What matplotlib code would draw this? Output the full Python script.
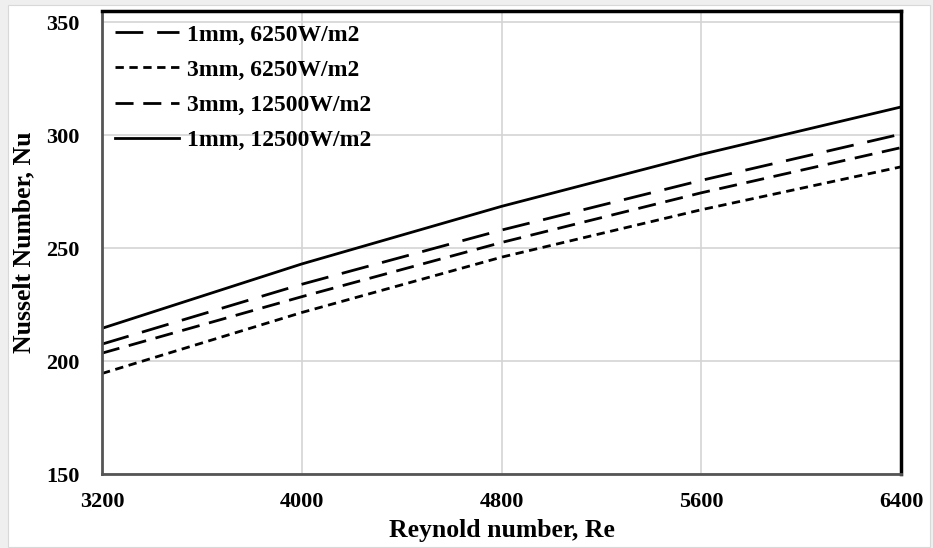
import matplotlib.pyplot as plt
from matplotlib.patches import Rectangle

re = [3200, 4000, 4800, 5600, 6400]
nu_1mm_6250 = [207.5, 234, 258, 280, 300.5]
nu_3mm_6250 = [194.5, 221.5, 246, 267, 286]
nu_3mm_12500 = [203.5, 228.5, 252.5, 274.5, 294.5]
nu_1mm_12500 = [214.5, 243, 268.5, 291.5, 312.5]

xticks = [3200, 4000, 4800, 5600, 6400]
yticks = [150, 200, 250, 300, 350]

plt.rcParams['font.family'] = 'Liberation Serif'
plt.rcParams['font.weight'] = 'bold'

fig = plt.figure(figsize=(9.33, 5.48), dpi=100, facecolor='#efefef')
# white card behind the chart
fig.patches.append(Rectangle((8 / 933, 1 / 548), 922 / 933, 542 / 548,
                             transform=fig.transFigure, facecolor='white',
                             edgecolor='#d8d8d8', linewidth=0.8, zorder=-10))
ax = fig.add_axes([102 / 933, 1 - 474 / 548, 799 / 933, 463 / 548])

ax.plot(re, nu_1mm_6250, color='black', lw=2.0, dashes=(10, 5), label='1mm, 6250W/m2')
ax.plot(re, nu_3mm_6250, color='black', lw=2.0, dashes=(3, 2), label='3mm, 6250W/m2')
ax.plot(re, nu_3mm_12500, color='black', lw=2.0, dashes=(6.5, 3.5), label='3mm, 12500W/m2')
ax.plot(re, nu_1mm_12500, color='black', lw=2.0, label='1mm, 12500W/m2')

ax.set_xlim(3200, 6400)
ax.set_ylim(150, 355)
ax.set_xticks(xticks)
ax.set_yticks(yticks)
ax.tick_params(length=0, labelsize=16)
ax.tick_params(axis='x', pad=13)
ax.tick_params(axis='y', pad=16)
ax.grid(True, color='#d4d4d4', lw=1.2)
ax.set_axisbelow(True)

for side in ['top', 'right']:
    ax.spines[side].set_color('black')
    ax.spines[side].set_linewidth(2.5)
for side in ['left', 'bottom']:
    ax.spines[side].set_color('#555555')
    ax.spines[side].set_linewidth(2.0)

ax.set_xlabel('Reynold number, Re', fontsize=18.5, fontweight='bold', labelpad=5)
ax.set_ylabel('Nusselt Number, Nu', fontsize=18.5, fontweight='bold', labelpad=8)

ax.legend(loc='upper left', frameon=False, fontsize=17, handlelength=2.7,
          handletextpad=0.35, labelspacing=0.58, borderaxespad=0.15)

plt.savefig('out.png', dpi=100, facecolor=fig.get_facecolor())
